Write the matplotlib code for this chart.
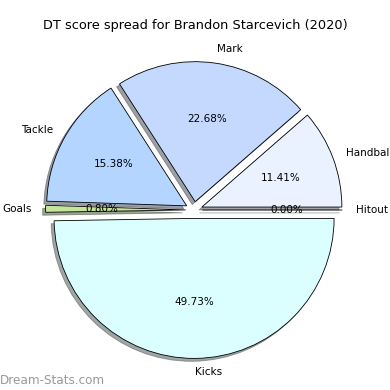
import matplotlib
matplotlib.use("Agg")
import matplotlib.pyplot as plt

labels = ["Hitout", "Handball", "Mark", "Tackle", "Goals", "Kicks"]
values = [0.00, 11.41, 22.68, 15.38, 0.80, 49.73]
colors = ["#f0f0f0", "#eaf1ff", "#c5d9ff", "#b3d5ff", "#c6e59a", "#dbffff"]
explode = [0.06] * len(values)
title = "DT score spread for Brandon Starcevich (2020)"

fig = plt.figure(figsize=(5.2, 5.2), dpi=75)
W = 350
cx, cy = 194, 210
ax = fig.add_axes([(cx - W/2)/390, (390 - cy - W/2)/390, W/390, W/390])
ax.pie(values, labels=labels, colors=colors, explode=explode, shadow=True,
       autopct="%1.2f%%", startangle=0,
       wedgeprops=dict(edgecolor="black", linewidth=0.8),
       textprops=dict(fontsize=10))
ax.set_aspect("equal")
fig.text(0.5, 1 - 25/390, title, ha="center", va="center", fontsize=12.4)
fig.text(0.0, 1 - 380/390, "Dream-Stats.com", ha="left", va="center",
         fontsize=11.5, color="#999999")
fig.savefig("out.png", dpi=75)
